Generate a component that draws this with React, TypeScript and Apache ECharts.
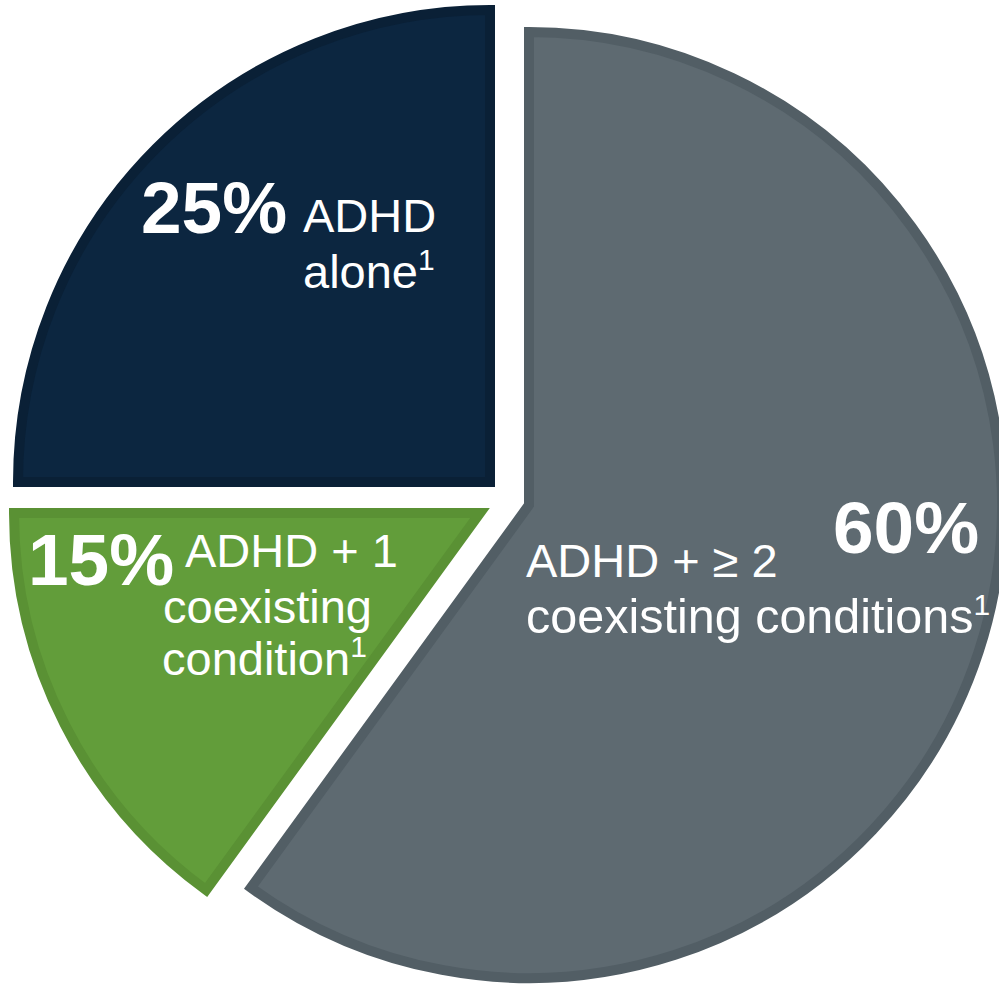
import React, { useEffect, useRef } from "react";
import * as echarts from "echarts";

// ---- data ----
const categories = [
  "ADHD + ≥ 2 coexisting conditions",
  "ADHD + 1 coexisting condition",
  "ADHD alone",
];
const values = [60, 15, 25];
const percentLabels = ["60%", "15%", "25%"];
const descriptionLines = [
  ["ADHD + ≥ 2", "coexisting conditions"],
  ["ADHD + 1", "coexisting", "condition"],
  ["ADHD", "alone"],
];
const footnoteMark = "1";

// ---- styling / layout ----
const fills = ["#5e6a71", "#629d3a", "#0c2640"];
const borders = ["#525e65", "#5a9134", "#0a2036"];
const centers: [number, number][] = [
  [529, 505],
  [480, 513],
  [490, 482],
];
const radii = [473, 466, 472];
const BORDER = 10;
const FONT = "'Liberation Sans', Arial, Helvetica, sans-serif";

// per slice: percent label position (x, baseline), description line positions (x, baseline, rich style)
const percentPos: [number, number][] = [
  [833, 553],
  [28, 585],
  [141, 233],
];
const linePos: [number, number, string][][] = [
  [
    [526, 577, "t"],
    [526, 633, "w"],
  ],
  [
    [185, 567, "t"],
    [163, 623, "t"],
    [162, 675, "t"],
  ],
  [
    [303, 232, "t"],
    [303, 288, "t"],
  ],
];
const baselineOffset: Record<string, number> = { b: 65.3, t: 43.3, w: 43.8 };

const rich = {
  b: { fontSize: 73, fontWeight: "bold", lineHeight: 80, color: "#ffffff", fontFamily: FONT },
  t: { fontSize: 47, lineHeight: 54, color: "#ffffff", fontFamily: FONT },
  w: { fontSize: 48.5, lineHeight: 54, color: "#ffffff", fontFamily: FONT },
  s: { fontSize: 30, lineHeight: 41, verticalAlign: "top", color: "#ffffff", fontFamily: FONT },
};

function buildOption() {
  const series = values.map((_, k) => ({
    type: "pie",
    name: categories[k],
    center: centers[k],
    radius: radii[k],
    startAngle: 90,
    clockwise: true,
    silent: true,
    z: 1,
    label: { show: false },
    labelLine: { show: false },
    emphasis: { disabled: true },
    data: values.map((v, i) => ({
      value: v,
      name: categories[i],
      itemStyle:
        i === k
          ? { color: fills[k], borderColor: borders[k], borderWidth: BORDER, borderJoin: "miter", borderMiterLimit: 10 }
          : { color: "transparent", borderWidth: 0 },
    })),
  }));

  const graphic: any[] = [];
  percentLabels.forEach((p, k) => {
    const [x, base] = percentPos[k];
    graphic.push({
      type: "text",
      x,
      y: base - baselineOffset.b,
      z: 100,
      silent: true,
      style: { text: `{b|${p}}`, rich, align: "left", verticalAlign: "top", fill: "#fff" },
    });
    descriptionLines[k].forEach((line, j) => {
      const [lx, lb, st] = linePos[k][j];
      const last = j === descriptionLines[k].length - 1;
      graphic.push({
        type: "text",
        x: lx,
        y: lb - baselineOffset[st],
        z: 100,
        silent: true,
        style: {
          text: `{${st}|${line}}` + (last ? `{s|${footnoteMark}}` : ""),
          rich,
          align: "left",
          verticalAlign: "top",
          fill: "#fff",
        },
      });
    });
  });

  return {
    animation: false,
    backgroundColor: "#ffffff",
    series,
    graphic: { elements: graphic },
  };
}

export default function App() {
  const ref = useRef<HTMLDivElement>(null);
  useEffect(() => {
    if (!ref.current) return;
    const chart = echarts.init(ref.current, undefined, { renderer: "svg" });
    chart.setOption(buildOption() as any);
    return () => chart.dispose();
  }, []);
  return (
    <div
      ref={ref}
      style={{ position: "fixed", left: 0, top: 0, width: 999, height: 985, background: "#fff" }}
    />
  );
}
